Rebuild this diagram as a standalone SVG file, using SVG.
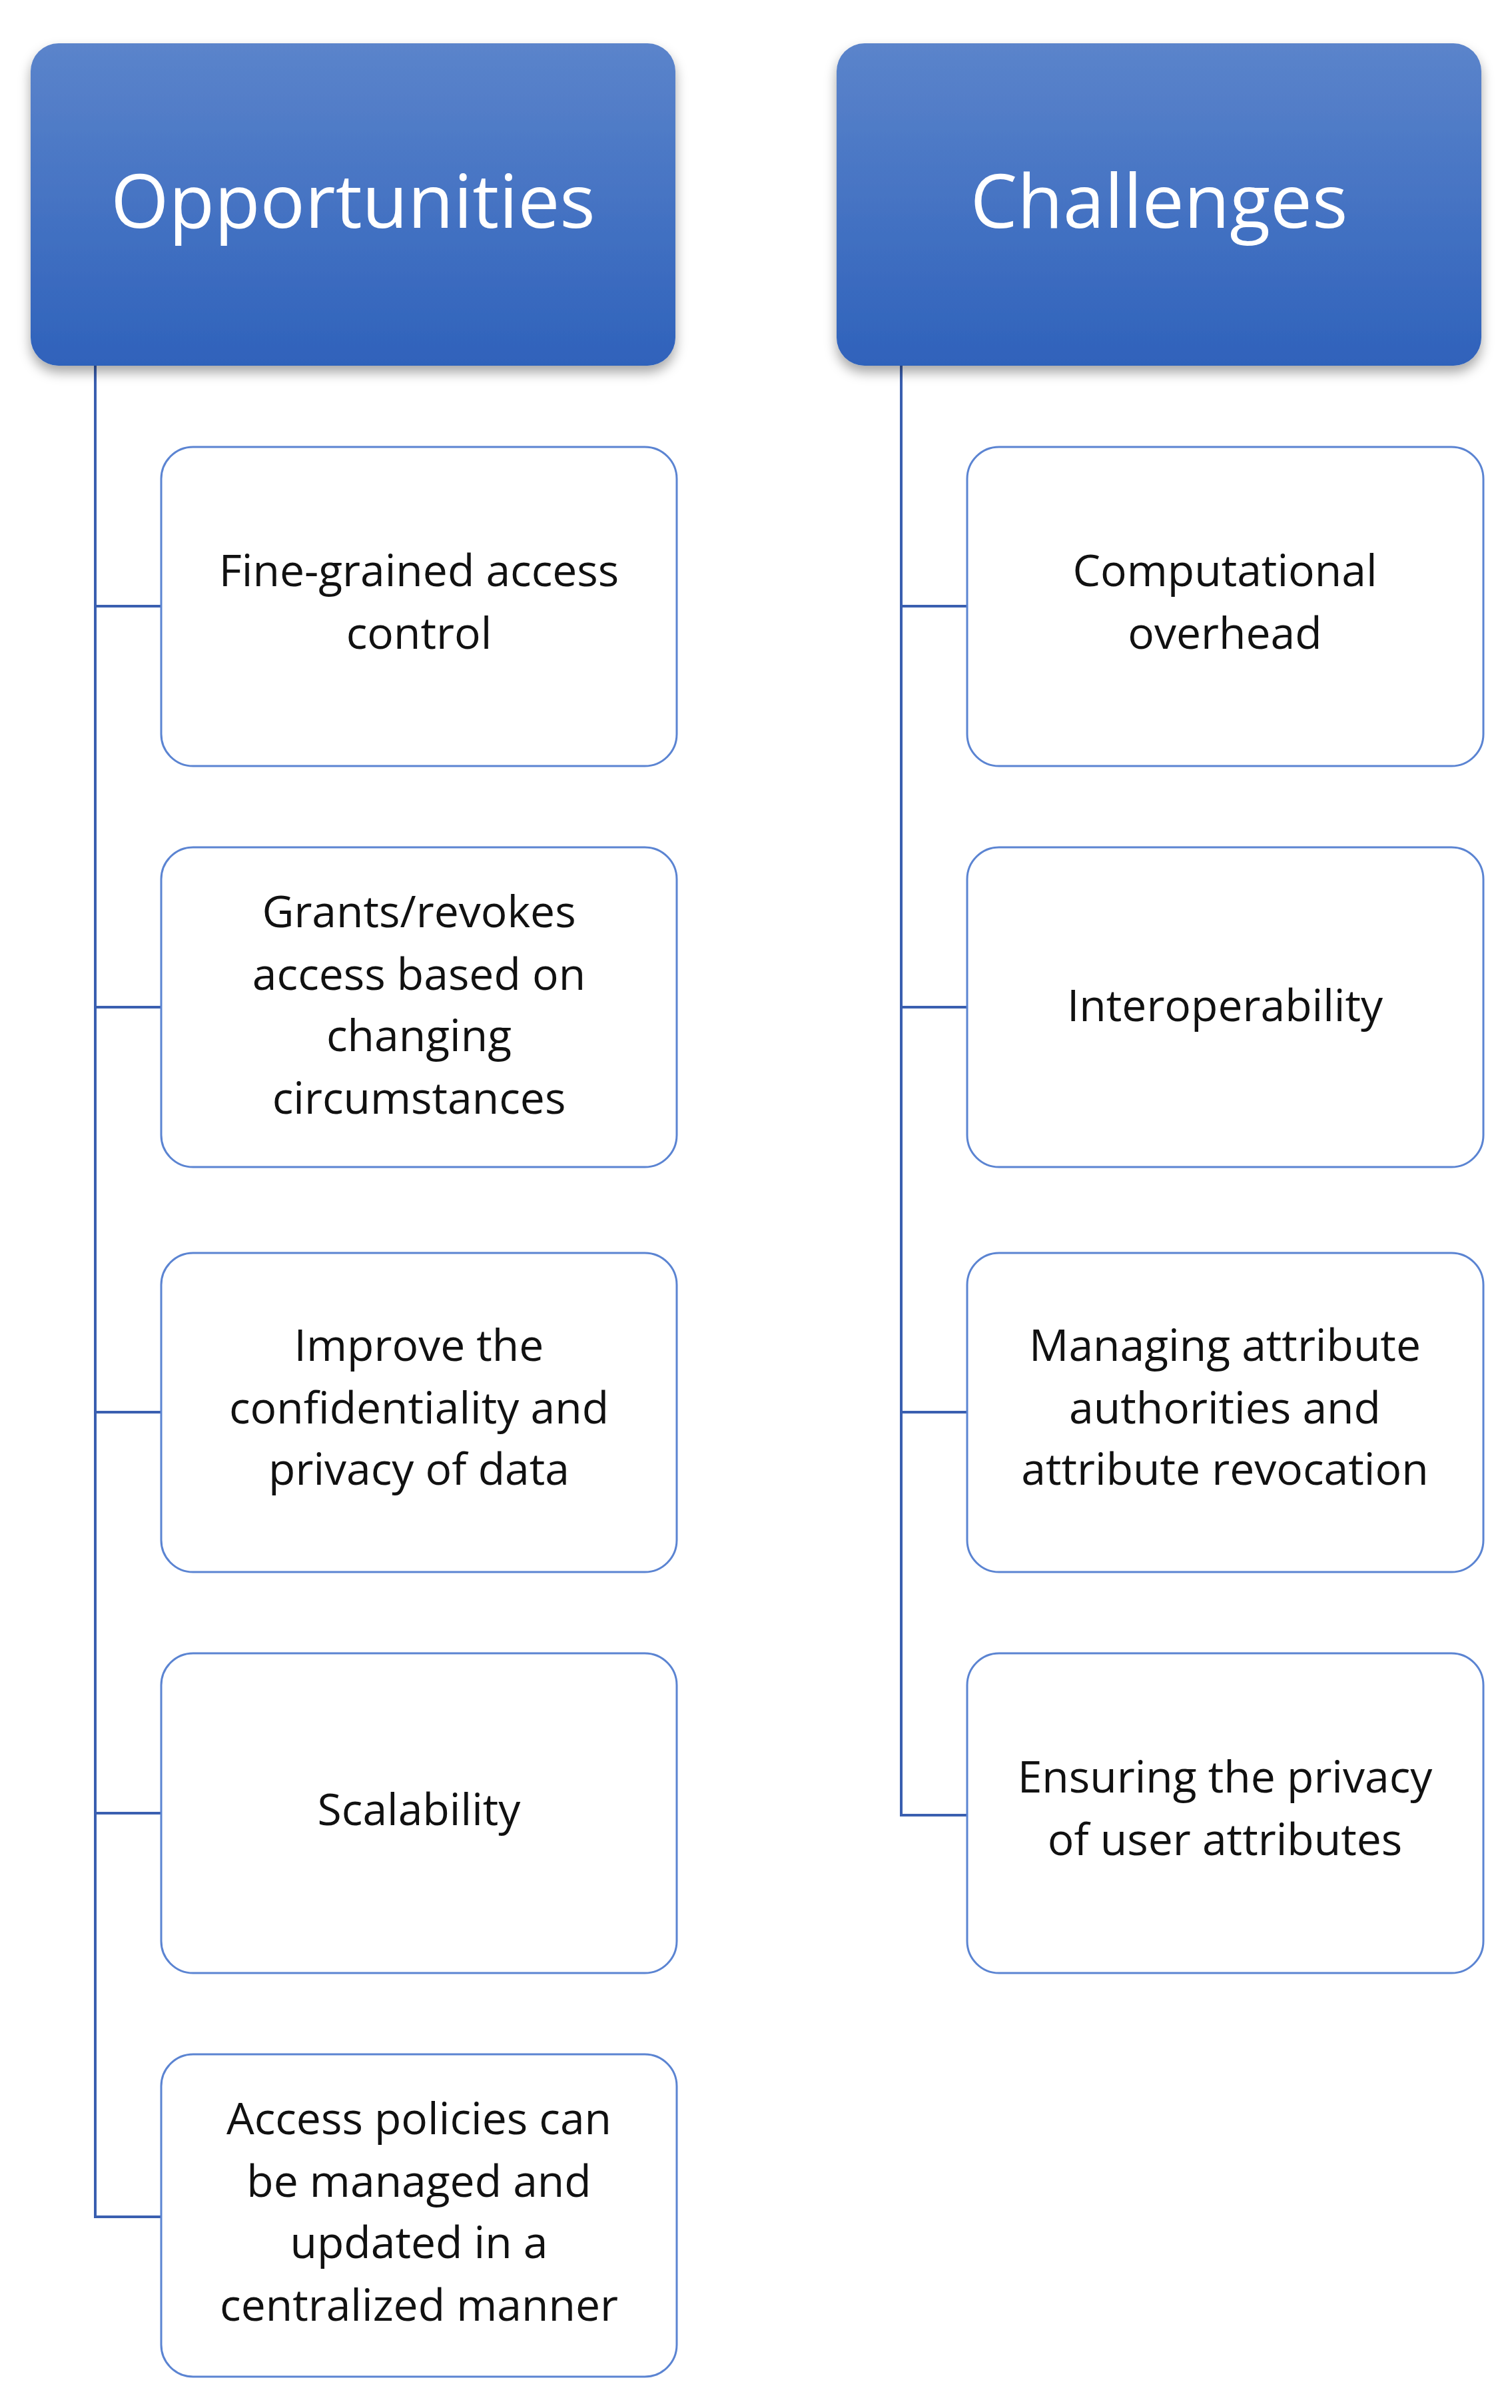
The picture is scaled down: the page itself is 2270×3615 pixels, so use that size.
<svg xmlns="http://www.w3.org/2000/svg" width="2270" height="3615" viewBox="0 0 2270 3615">
<style>
.h{fill:url(#g);filter:url(#sh)}
.b{fill:#fff;stroke:#5b84d2;stroke-width:3}
.ht{font-family:"Open Sans","Noto Sans",sans-serif;font-size:112px;fill:#fff;text-anchor:middle}
.t{font-family:"Open Sans","Noto Sans",sans-serif;font-size:66px;fill:#111;text-anchor:middle}
.c{fill:none;stroke:#3a5fb0;stroke-width:4}
</style>
<defs>
<linearGradient id="g" x1="0" y1="0" x2="0" y2="1"><stop offset="0" stop-color="#5b84cb"/><stop offset="1" stop-color="#2f62bb"/></linearGradient>
<filter id="sh" x="-10%" y="-10%" width="120%" height="130%"><feDropShadow dx="0" dy="10" stdDeviation="9" flood-color="#000" flood-opacity="0.35"/></filter>
</defs>
<rect width="2270" height="3615" fill="#fff"/>
<g id="connectors">
<path class="c" d="M143 549V3328H242M143 910H242M143 1512H242M143 2120H242M143 2722H242"/>
<path class="c" d="M1353 549V2725H1452M1353 910H1452M1353 1512H1452M1353 2120H1452"/>
</g>
<g id="opportunities"><rect class="h" x="46" y="65" width="968" height="484" rx="42"/><text class="ht" x="530" y="342">Opportunities</text></g>
<g id="challenges"><rect class="h" x="1256" y="65" width="968" height="484" rx="42"/><text class="ht" x="1740" y="342">Challenges</text></g>
<g id="o1"><rect class="b" x="242" y="671" width="774" height="479" rx="48"/><text class="t" x="629" y="880">Fine-grained access</text><text class="t" x="629" y="974">control</text></g>
<g id="o2"><rect class="b" x="242" y="1272" width="774" height="480" rx="48"/><text class="t" x="629" y="1392">Grants/revokes</text><text class="t" x="629" y="1486">access based on</text><text class="t" x="629" y="1578">changing</text><text class="t" x="629" y="1672">circumstances</text></g>
<g id="o3"><rect class="b" x="242" y="1881" width="774" height="479" rx="48"/><text class="t" x="629" y="2043">Improve the</text><text class="t" x="629" y="2137">confidentiality and</text><text class="t" x="629" y="2229">privacy of data</text></g>
<g id="o4"><rect class="b" x="242" y="2482" width="774" height="480" rx="48"/><text class="t" x="629" y="2740">Scalability</text></g>
<g id="o5"><rect class="b" x="242" y="3084" width="774" height="484" rx="48"/><text class="t" x="629" y="3204">Access policies can</text><text class="t" x="629" y="3298">be managed and</text><text class="t" x="629" y="3390">updated in a</text><text class="t" x="629" y="3484">centralized manner</text></g>
<g id="c1"><rect class="b" x="1452" y="671" width="775" height="479" rx="48"/><text class="t" x="1839" y="880">Computational</text><text class="t" x="1839" y="974">overhead</text></g>
<g id="c2"><rect class="b" x="1452" y="1272" width="775" height="480" rx="48"/><text class="t" x="1839" y="1533">Interoperability</text></g>
<g id="c3"><rect class="b" x="1452" y="1881" width="775" height="479" rx="48"/><text class="t" x="1839" y="2043">Managing attribute</text><text class="t" x="1839" y="2137">authorities and</text><text class="t" x="1839" y="2229">attribute revocation</text></g>
<g id="c4"><rect class="b" x="1452" y="2482" width="775" height="480" rx="48"/><text class="t" x="1839" y="2691">Ensuring the privacy</text><text class="t" x="1839" y="2785">of user attributes</text></g>
</svg>
